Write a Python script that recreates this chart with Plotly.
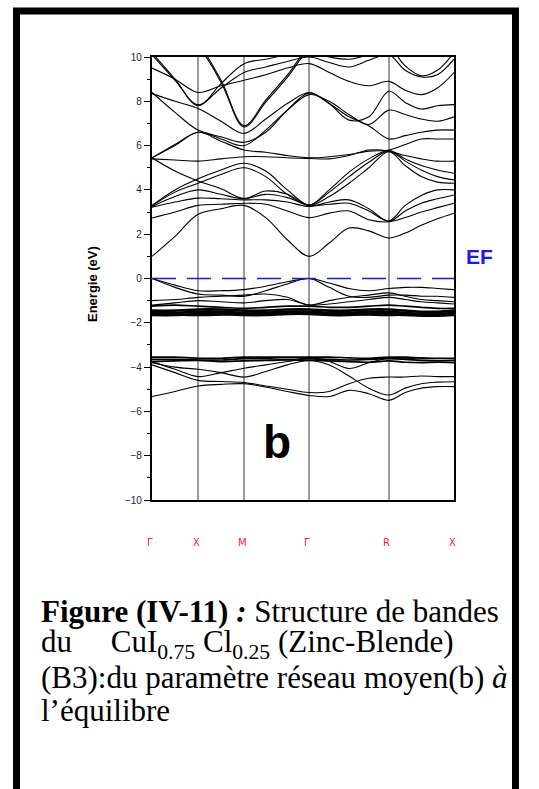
import plotly.graph_objects as go

# ---------------- data ----------------
kpts = [0, 0.5, 1, 1.5, 2, 2.47, 2.94, 3.414, 3.85, 4.28, 4.71, 5.146, 5.5, 5.85, 6.2, 6.56]
sym_k = [0, 1, 2, 3.414, 5.146, 6.56]
sym_labels = ["Γ", "X", "M", "Γ", "R", "X"]
ytick_vals = [-10, -8, -6, -4, -2, 0, 2, 4, 6, 8, 10]

conduction = {
    "CB01": [1.00, 1.90, 2.90, 3.15, 3.30, 2.75, 1.75, 1.00, 1.60, 2.28, 2.15, 1.83, 2.05, 2.40, 2.70, 2.95],
    "CB02": [2.73, 3.00, 3.30, 3.35, 3.40, 3.35, 3.05, 2.75, 2.95, 3.05, 2.65, 2.56, 2.75, 3.00, 3.20, 3.40],
    "CB03": [3.22, 3.45, 3.63, 3.60, 3.55, 3.55, 3.45, 3.25, 3.45, 3.55, 3.15, 2.58, 3.05, 3.40, 3.60, 3.77],
    "CB04": [3.25, 3.70, 4.00, 3.80, 3.60, 3.80, 3.65, 3.30, 3.35, 3.40, 3.05, 2.60, 3.30, 3.75, 4.00, 4.00],
    "CB05": [3.28, 3.90, 4.30, 4.70, 5.00, 4.60, 3.80, 3.30, 3.90, 4.60, 5.25, 5.75, 5.30, 4.90, 4.60, 4.45],
    "CB06": [3.30, 4.00, 4.50, 4.90, 5.20, 4.85, 4.00, 3.32, 4.00, 4.80, 5.40, 5.78, 5.40, 5.10, 4.90, 4.75],
    "CB07": [5.45, 4.85, 4.40, 4.05, 3.62, 3.95, 3.80, 3.30, 3.70, 4.30, 5.00, 5.72, 5.10, 4.60, 4.35, 4.30],
    "CB08": [5.45, 6.00, 6.60, 6.20, 5.80, 5.70, 5.55, 5.45, 5.50, 5.60, 5.75, 5.80, 6.05, 6.30, 6.30, 6.30],
    "CB09": [5.40, 5.35, 5.30, 5.40, 5.50, 5.50, 5.45, 5.42, 5.40, 5.55, 5.80, 5.75, 5.55, 5.40, 5.30, 5.30],
    "CB10": [8.40, 7.50, 6.70, 6.40, 6.15, 6.60, 7.60, 8.38, 7.90, 7.30, 6.90, 6.30, 6.45, 6.60, 6.70, 6.70],
    "CB11": [8.35, 8.00, 7.67, 7.10, 6.55, 7.20, 7.90, 8.40, 7.90, 7.15, 7.30, 8.45, 7.95, 7.65, 7.80, 7.85],
    "CB12": [5.45, 6.05, 6.60, 6.30, 6.00, 6.70, 7.60, 8.30, 8.00, 7.40, 6.95, 7.60, 7.40, 7.20, 7.10, 7.30],
    "CB13": [10.10, 8.95, 7.84, 8.60, 9.30, 9.55, 9.80, 10.00, 9.75, 9.55, 9.85, 10.10, 9.40, 9.10, 9.20, 9.90],
    "CB14": [10.20, 9.00, 7.80, 8.80, 9.70, 9.90, 10.10, 10.20, 10.00, 9.90, 10.10, 10.40, 9.60, 9.15, 9.40, 10.20],
    "CB15": [11.50, 11.00, 10.45, 8.85, 6.84, 7.96, 9.08, 10.30, 10.50, 10.40, 10.30, 10.40, 10.30, 10.50, 10.60, 10.80],
    "CB16": [11.60, 11.10, 10.55, 8.95, 6.90, 8.05, 9.18, 10.40, 10.60, 10.50, 10.40, 10.50, 10.40, 10.60, 10.70, 10.90],
    "CB17": [9.50, 9.00, 8.40, 8.70, 8.95, 9.20, 9.50, 9.70, 9.30, 8.90, 8.70, 8.90, 8.50, 8.30, 8.60, 9.30],
}

valence = {
    "VB01": [0.00, -0.30, -0.55, -0.55, -0.50, -0.35, -0.15, 0.00, -0.20, -0.45, -0.55, -0.45, -0.40, -0.40, -0.45, -0.50],
    "VB02": [0.00, -0.40, -0.70, -0.75, -0.80, -0.55, -0.25, 0.00, -0.40, -0.80, -0.85, -0.75, -0.75, -0.80, -0.80, -0.85],
    "VB03": [-1.00, -0.95, -0.85, -0.80, -0.75, -0.70, -0.85, -1.20, -1.00, -0.85, -0.75, -0.65, -0.80, -0.95, -1.00, -1.05],
    "VB04": [-1.20, -1.10, -1.00, -1.05, -1.10, -1.00, -0.95, -1.20, -1.15, -1.05, -0.95, -0.85, -0.95, -1.05, -1.10, -1.15],
    "VB05": [-1.25, -1.20, -1.25, -1.30, -1.35, -1.30, -1.25, -1.25, -1.30, -1.30, -1.25, -1.20, -1.25, -1.30, -1.35, -1.35],
    "VB06": [-1.45, -1.45, -1.40, -1.40, -1.45, -1.45, -1.40, -1.40, -1.45, -1.45, -1.40, -1.40, -1.45, -1.50, -1.50, -1.45],
    "VB07": [-1.55, -1.55, -1.50, -1.50, -1.55, -1.55, -1.50, -1.50, -1.55, -1.55, -1.50, -1.50, -1.55, -1.60, -1.60, -1.55],
    "VB08": [-1.65, -1.65, -1.60, -1.60, -1.65, -1.65, -1.60, -1.60, -1.65, -1.65, -1.60, -1.62, -1.65, -1.68, -1.68, -1.65],
    "VB09": [-1.60, -1.62, -1.65, -1.62, -1.58, -1.55, -1.55, -1.58, -1.60, -1.60, -1.62, -1.65, -1.62, -1.60, -1.62, -1.60],
    "LB01": [-3.55, -3.55, -3.60, -3.60, -3.55, -3.55, -3.55, -3.55, -3.55, -3.58, -3.60, -3.55, -3.55, -3.58, -3.60, -3.60],
    "LB02": [-3.65, -3.65, -3.68, -3.68, -3.62, -3.62, -3.65, -3.62, -3.65, -3.68, -3.65, -3.62, -3.65, -3.70, -3.72, -3.70],
    "LB03": [-3.75, -3.72, -3.70, -3.75, -3.72, -3.70, -3.68, -3.70, -3.72, -3.75, -3.78, -3.72, -3.78, -3.80, -3.78, -3.80],
    "LB04": [-3.75, -4.10, -4.43, -4.25, -4.05, -3.90, -3.75, -3.62, -3.75, -4.06, -3.80, -3.60, -3.60, -3.62, -3.62, -3.62],
    "LB05": [-3.80, -4.00, -4.10, -4.25, -4.45, -4.20, -3.90, -3.70, -3.90, -4.40, -4.95, -5.26, -4.95, -4.75, -4.68, -4.66],
    "LB06": [-5.33, -5.10, -4.85, -4.78, -4.75, -4.90, -5.10, -5.28, -5.33, -5.05, -5.20, -5.50, -5.15, -4.95, -4.88, -4.88],
    "LB07": [-3.90, -4.25, -4.60, -4.65, -4.70, -4.85, -5.00, -5.15, -5.10, -4.75, -4.50, -4.45, -4.45, -4.40, -4.43, -4.43],
}
thick_bands = ["VB06", "VB07", "VB08", "VB09"]
medium_bands = ["LB01", "LB02", "LB03", "VB05"]

caption_lines = [
    "<b>Figure (IV-11) <i>:</i></b> Structure de bandes",
    "du&nbsp;&nbsp;&nbsp;&nbsp; CuI<sub>0.75</sub> Cl<sub>0.25</sub> (Zinc-Blende)",
    "(B3):du paramètre réseau moyen(b) <i>à</i>",
    "l’équilibre",
]

# ---------------- layout geometry (pixels) ----------------
W, H = 539, 789
PL, PR, PT, PB = 152, 454, 57, 500


def px(x):
    return (x - PL) / (PR - PL)


def py(y):
    return (PB - y) / (PB - PT)


fig = go.Figure()

for name, e in list(conduction.items()) + list(valence.items()):
    w = 2.6 if name in thick_bands else (1.7 if name in medium_bands else 1.1)
    fig.add_trace(go.Scatter(x=kpts, y=e, mode="lines", name=name,
                             line=dict(color="black", width=w, shape="spline", smoothing=1.0),
                             showlegend=False, hoverinfo="skip"))

# Fermi level
fig.add_trace(go.Scatter(x=[sym_k[0], sym_k[-1]], y=[0, 0], mode="lines",
                         line=dict(color="#1a1aee", width=1.6, dash="24px,11px"),
                         showlegend=False, hoverinfo="skip"))

fig.update_layout(
    width=W, height=H,
    margin=dict(l=PL, r=W - PR, t=PT, b=H - PB),
    paper_bgcolor="white", plot_bgcolor="white",
    showlegend=False,
)

fig.update_xaxes(range=[sym_k[0], sym_k[-1]], tickvals=sym_k, showticklabels=False, ticks="",
                 showgrid=True, gridcolor="#9a9a9a", gridwidth=1.5, zeroline=False,
                 showline=True, linecolor="black", linewidth=2.2, mirror=True)
fig.update_yaxes(range=[-10, 10], tickvals=ytick_vals, ticks="outside", ticklen=6, tickwidth=1,
                 tickcolor="black", showgrid=False, zeroline=False,
                 minor=dict(dtick=1, ticks="outside", ticklen=3, tickcolor="black"),
                 tickfont=dict(family="Liberation Sans", size=10, color="#222244"),
                 showline=True, linecolor="black", linewidth=2.2, mirror=True)

ann = []
for k, lab in zip(sym_k, sym_labels):
    ann.append(dict(x=k, y=-10, xref="x", yref="y", text=lab, showarrow=False,
                    xanchor="center", yanchor="middle",
                    yshift=-42, xshift=-2, font=dict(family="DejaVu Sans", size=10, color="#ff2020")))

ann.append(dict(x=px(92), y=py(284), xref="paper", yref="paper", text="<b>Energie (eV)</b>",
                textangle=-90, showarrow=False, xanchor="center", yanchor="middle",
                font=dict(family="Liberation Sans", size=13, color="black")))
ann.append(dict(x=px(479), y=py(256), xref="paper", yref="paper", text="<b>EF</b>",
                showarrow=False, xanchor="center", yanchor="middle",
                font=dict(family="Liberation Sans", size=21, color="#1a1aee")))
ann.append(dict(x=px(277), y=py(442), xref="paper", yref="paper", text="<b>b</b>",
                showarrow=False, xanchor="center", yanchor="middle",
                font=dict(family="Liberation Sans", size=46, color="black")))

for i, line in enumerate(caption_lines):
    ann.append(dict(x=px(39), y=py(611 + 33 * i), xref="paper", yref="paper", text=line,
                    xanchor="left", yanchor="middle", showarrow=False, align="left",
                    font=dict(family="Liberation Serif", size=31, color="black")))

fig.update_layout(annotations=ann)

# outer frame
frame = dict(color="black", width=7)
fig.add_shape(type="line", xref="paper", yref="paper", x0=px(13), x1=px(519), y0=py(11), y1=py(11), line=frame)
fig.add_shape(type="line", xref="paper", yref="paper", x0=px(16.5), x1=px(16.5), y0=py(8), y1=py(800), line=frame)
fig.add_shape(type="line", xref="paper", yref="paper", x0=px(515.5), x1=px(515.5), y0=py(8), y1=py(800), line=frame)

fig.write_html("out.html")
